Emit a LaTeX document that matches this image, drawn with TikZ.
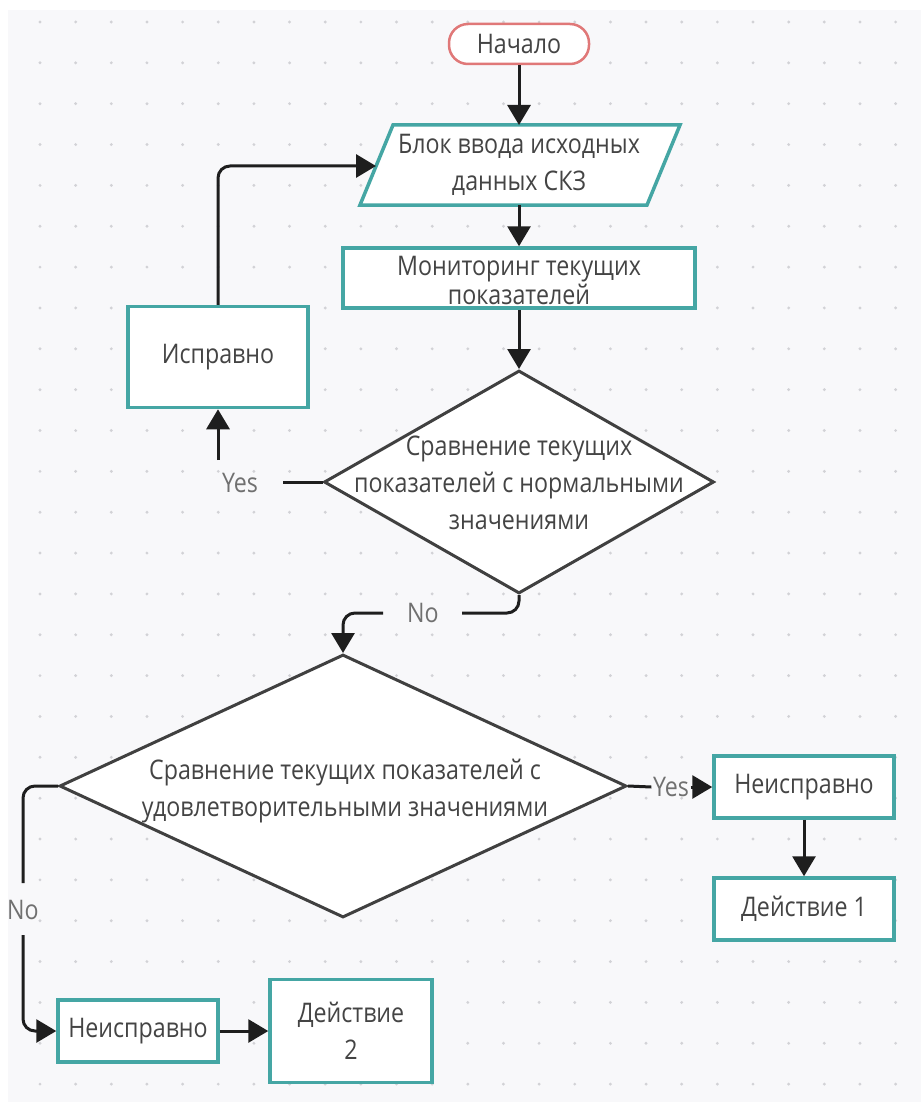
\documentclass[tikz,border=0pt]{standalone}
\usepackage{fontspec}
\setmainfont[FakeStretch=0.86]{Open Sans}
\usetikzlibrary{arrows.meta,shapes.geometric}
\definecolor{bg}{HTML}{F8F8FA}
\definecolor{tealb}{HTML}{45A6A4}
\definecolor{startb}{HTML}{E07878}
\definecolor{txtc}{HTML}{444444}
\definecolor{lblc}{HTML}{707070}
\definecolor{dotc}{HTML}{D2D2D6}
\definecolor{linec}{HTML}{1E1E1E}
\begin{document}
\begin{tikzpicture}[x=1pt,y=-1pt,
  every node/.style={font=\fontsize{27}{37}\selectfont, text=txtc},
  box/.style={draw=tealb, line width=3.5pt, fill=white, align=center, inner sep=0pt},
  dia/.style={diamond, draw=linec!85, line width=3pt, fill=white, inner sep=0pt},
  conn/.style={draw=linec, line width=3pt, rounded corners=12pt},
  arr/.style={conn, -{Triangle[length=20pt,width=23pt]}},
  lbl/.style={text=lblc, inner sep=0pt},
]
\useasboundingbox (0,0) rectangle (921,1102);
\fill[white] (0,0) rectangle (921,1102);
\fill[bg] (8,10) rectangle (921,1102);
\foreach \i in {0,...,24} \foreach \j in {0,...,26} \fill[dotc] (40+35.65*\i, 22+40.85*\j) circle (1.6pt);

% start
\node[draw=startb, line width=2.5pt, fill=white, rounded corners=19pt, minimum width=140pt, minimum height=40pt, inner sep=0pt] (start) at (519,44) {Начало};

% input parallelogram
\coordinate (pTL) at (393,125);
\coordinate (pTR) at (680,125);
\coordinate (pBR) at (647,205);
\coordinate (pBL) at (360,205);
\coordinate (inL) at (376,166);
\filldraw[draw=tealb, fill=white, line width=3.5pt, line join=miter] (pTL) -- (pTR) -- (pBR) -- (pBL) -- cycle;
\node[align=center, minimum width=287pt, minimum height=80pt, inner sep=0pt] (inp) at (519,165) {Блок ввода исходных\\данных СКЗ};

% monitoring
\node[box, minimum width=352pt, minimum height=60pt] (mon) at (519,278) {};
\node[align=center, inner sep=0pt, font=\fontsize{27}{29}\selectfont] (mont) at (519,280) {Мониторинг текущих\\показателей};

% decision 1
\node[dia, minimum width=390pt, minimum height=223pt] (d1) at (519,482) {};
\node[align=center, inner sep=0pt] (d1t) at (519,483) {Сравнение текущих\\показателей с нормальными\\значениями};

% OK box
\node[box, minimum width=180pt, minimum height=101pt] (isp) at (218,357) {Исправно};

% decision 2
\node[dia, minimum width=567pt, minimum height=263pt] (d2) at (343,786) {};
\node[align=center, inner sep=0pt] (d2t) at (345,791) {Сравнение текущих показателей с\\удовлетворительными значениями};

% right branch
\node[box, minimum width=180pt, minimum height=62pt] (nr1) at (804,787) {Неисправно};
\node[box, minimum width=180pt, minimum height=62pt] (act1) at (804,909) {Действие 1};

% bottom branch
\node[box, minimum width=160pt, minimum height=62pt] (nr2) at (138,1031) {Неисправно};
\node[box, minimum width=162pt, minimum height=103pt] (act2) at (351,1031) {Действие\\2};

% labels
\node[lbl] (y1) at (240,483) {Yes};
\node[lbl] (n1) at (423,613) {No};
\node[lbl, inner sep=1.5pt] (y2) at (671,787) {Yes};
\node[lbl] (n2) at (23,910) {No};

\coordinate (y1a) at (283,482);
\coordinate (y1b) at (218,460);
\coordinate (n1e) at (462,613);
\coordinate (n1w) at (383,613);
\coordinate (n2a) at (23,883);
\coordinate (n2b) at (23,935);

% connectors
\draw[arr] (start.south) -- (start.south |- pTL);
\draw[arr] (inp.south) -- (mon.north);
\draw[arr] (mon.south) -- (d1.north);
\draw[conn] (d1.west) -- (y1a);
\draw[arr] (y1b) -- (isp.south);
\draw[arr] (isp.north) |- (inL);
\draw[conn] (d1.south) |- (n1e);
\draw[arr] (n1w) -| (d2.north);
\draw[conn] (d2.east) -- (y2.west);
\draw[arr] (y2.east) -- (nr1.west);
\draw[arr] (nr1.south) -- (act1.north);
\draw[conn] (d2.west) -| (n2a);
\draw[arr] (n2b) |- (nr2.west);
\draw[arr] (nr2.east) -- (act2.west);
\end{tikzpicture}
\end{document}
